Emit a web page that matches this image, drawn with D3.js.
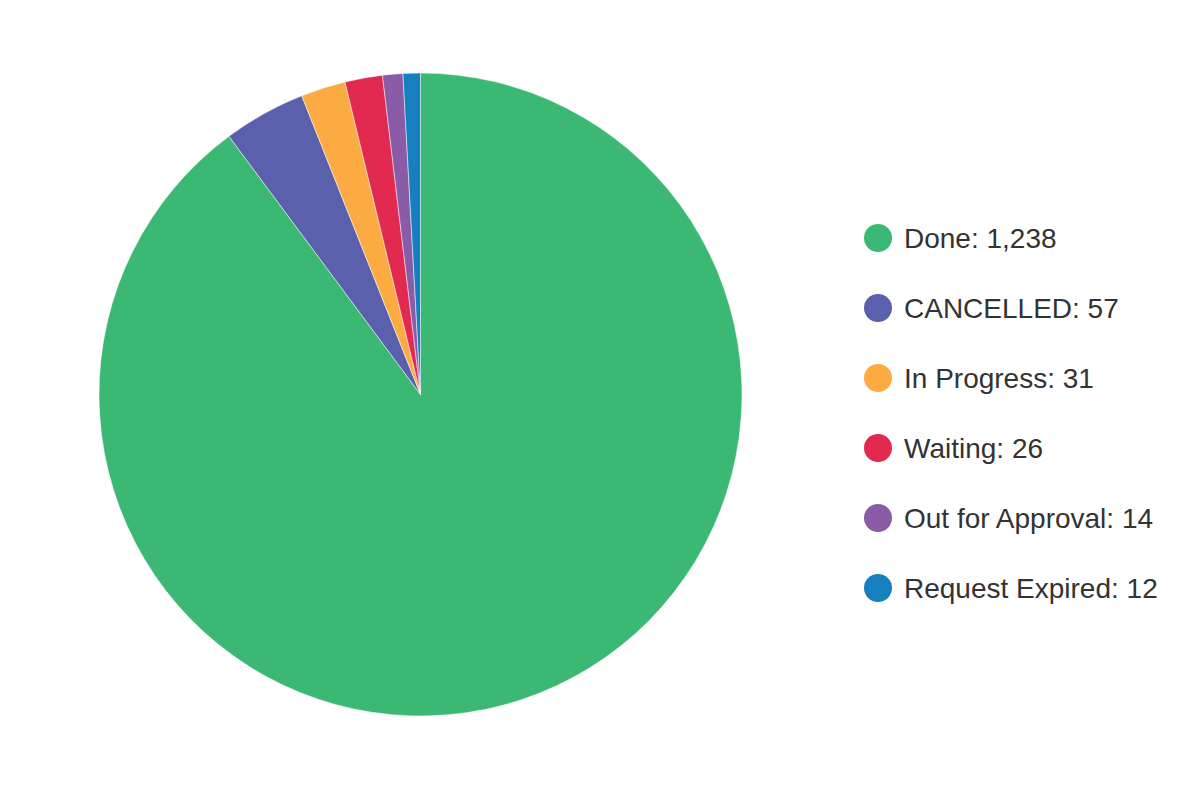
<!DOCTYPE html>
<html><head><meta charset="utf-8">
<script src="https://cdn.jsdelivr.net/npm/d3@7"></script>
<style>html,body{margin:0;padding:0;background:#fff;}</style>
</head><body>
<svg id="c" width="1200" height="800"></svg>
<script>
const categories = ["Done", "CANCELLED", "In Progress", "Waiting", "Out for Approval", "Request Expired"];
const values = [1238, 57, 31, 26, 14, 12];
const colors = ["#3bb873", "#5a60ab", "#fbab41", "#e2294f", "#8a5ba6", "#1580bd"];

const svg = d3.select("#c");
const cx = 420.5, cy = 394.5, r = 321.5;
const data = categories.map((c, i) => ({name: c, value: values[i], color: colors[i]}));
const pie = d3.pie().sort(null).value(d => d.value);
const arc = d3.arc().innerRadius(0).outerRadius(r);
const g = svg.append("g").attr("transform", `translate(${cx},${cy})`);
g.selectAll("path").data(pie(data)).join("path")
  .attr("d", arc).attr("fill", d => d.data.color)
  .attr("stroke", "#fff").attr("stroke-width", 0.5);

const fmt = d3.format(",");
const leg = svg.append("g").attr("transform", "translate(878,238)");
const items = leg.selectAll("g").data(data).join("g")
  .attr("transform", (d, i) => `translate(0,${i * 70})`);
items.append("circle").attr("r", 14).attr("fill", d => d.color);
items.append("text").attr("x", 26).attr("y", 0).attr("dy", "0.35em")
  .attr("font-family", "'Liberation Sans', Arial, sans-serif").attr("font-size", 28)
  .attr("fill", "#333").text(d => `${d.name}: ${fmt(d.value)}`);
</script>
</body></html>
